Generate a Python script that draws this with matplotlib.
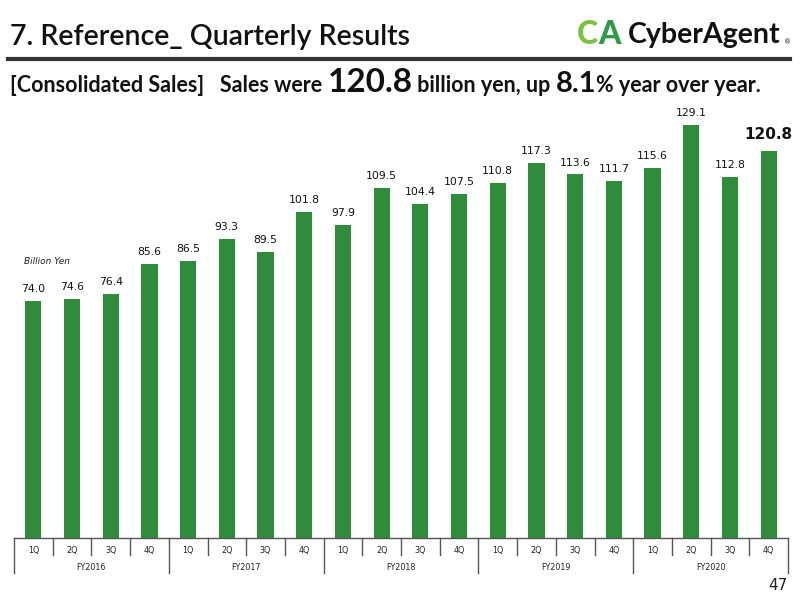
import matplotlib
matplotlib.use("Agg")
import matplotlib.pyplot as plt
from matplotlib.transforms import blended_transform_factory
from matplotlib.lines import Line2D

quarters = ["1Q", "2Q", "3Q", "4Q"] * 5
years = ["FY2016", "FY2017", "FY2018", "FY2019", "FY2020"]
sales = [74.0, 74.6, 76.4, 85.6,
         86.5, 93.3, 89.5, 101.8,
         97.9, 109.5, 104.4, 107.5,
         110.8, 117.3, 113.6, 111.7,
         115.6, 129.1, 112.8, 120.8]

GREEN = "#2e8c3b"
FONT = "Lato"

fig = plt.figure(figsize=(8, 6), dpi=100)
ax = fig.add_axes([14 / 800, 1 - 538 / 600, 774 / 800, 433 / 600])
ax_h_px = 433

x = list(range(len(sales)))
ax.bar(x, sales, width=0.42, color=GREEN, zorder=2)
ax.set_xlim(-0.5, len(sales) - 0.5)
ax.set_ylim(0, 433 / 3.2)
for s in ["top", "right", "left"]:
    ax.spines[s].set_visible(False)
ax.spines["bottom"].set_color("#555555")
ax.spines["bottom"].set_linewidth(1.0)
ax.set_xticks([])
ax.set_yticks([])

for i, v in enumerate(sales):
    last = i == len(sales) - 1
    ax.annotate(f"{v:.1f}", (i, v), xytext=(0, 7 if last else 5), textcoords="offset points",
                ha="center", va="bottom", fontsize=11 if last else 7.8,
                fontweight="bold" if last else "normal", family="DejaVu Sans", color="#111111")

trans = blended_transform_factory(ax.transData, ax.transAxes)
q_len = 17 / ax_h_px
y_len = 35 / ax_h_px
for b in range(len(sales) + 1):
    depth = y_len if b % 4 == 0 else q_len
    ax.add_line(Line2D([b - 0.5, b - 0.5], [0, -depth], transform=trans,
                       color="#555555", lw=1.0, clip_on=False))
for i, q in enumerate(quarters):
    ax.text(i, -13 / ax_h_px, q, transform=trans, ha="center", va="center",
            fontsize=5.8, family="DejaVu Sans", color="#222222")
for k, yr in enumerate(years):
    ax.text(4 * k + 1.5, -30 / ax_h_px, yr, transform=trans, ha="center", va="center",
            fontsize=5.8, family="DejaVu Sans", color="#222222")

ax.text(24 / 800, 1 - 261 / 600, "Billion Yen", transform=fig.transFigure,
        fontsize=6.5, style="italic", family="DejaVu Sans", va="center", color="#222222")

# header
fig.text(10 / 800, 1 - 37 / 600, "7. Reference_ Quarterly Results", fontsize=20.5,
         family=FONT, fontweight="semibold", va="center", color="#111111")
fig.add_artist(Line2D([8 / 800, 790 / 800], [1 - 59 / 600] * 2, transform=fig.transFigure,
                      color="#333333", lw=3))

fig.text(577 / 800, 1 - 35 / 600, "C", fontsize=23, family=FONT, fontweight="black",
         color="#7dc242", va="center")
fig.text(598 / 800, 1 - 35 / 600, "A", fontsize=23, family=FONT, fontweight="black",
         color="#2e9a48", va="center")
fig.text(628 / 800, 1 - 35 / 600, "CyberAgent", fontsize=20.5, family=FONT, fontweight="bold",
         color="#111111", va="center")
fig.text(784 / 800, 1 - 42 / 600, "\u00ae", fontsize=5, family="DejaVu Sans",
         color="#111111", va="center")

# subtitle, laid out piece by piece
pieces = [("[Consolidated Sales]   Sales were ", 15.5),
          ("120.8", 24),
          (" billion yen, up ", 15.5),
          ("8.1", 21),
          ("% year over year.", 15.5)]
renderer = fig.canvas.get_renderer()
xpos = 10
for txt, size in pieces:
    t = fig.text(xpos / 800, 1 - 92 / 600, txt, fontsize=size, family=FONT,
                 fontweight="bold", va="baseline", color="#111111")
    xpos += t.get_window_extent(renderer).width

fig.text(778 / 800, 1 - 585 / 600, "47", fontsize=11, family="DejaVu Sans",
         ha="center", va="center", color="#222222")

fig.savefig("out.png", dpi=100)
